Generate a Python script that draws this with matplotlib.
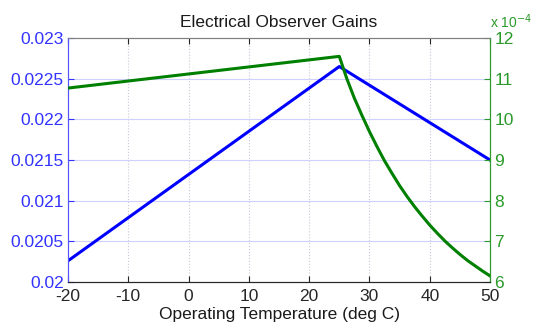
import matplotlib
matplotlib.use('Agg')
import matplotlib.pyplot as plt
from matplotlib.ticker import FuncFormatter

plt.rcParams['font.family'] = ['Liberation Sans', 'DejaVu Sans']
plt.rcParams['axes.unicode_minus'] = False

# data
temp_blue = [-20, 25, 50]
gain_blue = [0.02026, 0.02265, 0.0215]

temp_green = [-20, 25, 26.25, 27.5, 28.75, 30, 31.25, 32.5, 33.75, 35, 36.25,
              37.5, 38.75, 40, 41.25, 42.5, 43.75, 45, 46.25, 47.5, 48.75, 50]
gain_green = [10.77e-4, 11.55e-4, 11.00e-4, 10.52e-4, 10.10e-4, 9.70e-4,
              9.33e-4, 8.98e-4, 8.67e-4, 8.37e-4, 8.10e-4, 7.85e-4, 7.62e-4,
              7.40e-4, 7.20e-4, 7.01e-4, 6.84e-4, 6.68e-4, 6.53e-4, 6.40e-4,
              6.27e-4, 6.15e-4]

xticks = [-20, -10, 0, 10, 20, 30, 40, 50]
left_ticks = [0.02, 0.0205, 0.021, 0.0215, 0.022, 0.0225, 0.023]
left_labels = ['0.02', '0.0205', '0.021', '0.0215', '0.022', '0.0225', '0.023']
right_ticks = [6e-4, 7e-4, 8e-4, 9e-4, 10e-4, 11e-4, 12e-4]

fig = plt.figure(figsize=(5.35, 3.31), dpi=100)
ax1 = fig.add_axes([0.127, 0.148, 0.789, 0.737])
ax2 = ax1.twinx()

ax1.plot(temp_blue, gain_blue, color='#0000ff', lw=2.2, zorder=3)
ax2.plot(temp_green, gain_green, color='#008000', lw=2.2, zorder=3)

ax1.set_xlim(-20, 50)
ax1.set_ylim(0.02, 0.023)
ax2.set_ylim(6e-4, 12e-4)

ax1.set_xticks(xticks)
ax1.set_yticks(left_ticks)
ax1.set_yticklabels(left_labels)
ax2.set_yticks(right_ticks)
ax2.yaxis.set_major_formatter(FuncFormatter(lambda v, p: '%d' % round(v * 1e4)))

# grid lines
for x in xticks[1:-1]:
    ax1.axvline(x, color='#c8c8d8', lw=0.8, ls=':', zorder=1)
for y in left_ticks[1:-1]:
    ax1.axhline(y, color='#d0d0ff', lw=0.8, zorder=1)

ax1.tick_params(axis='x', direction='in', top=True, length=4, labelsize=12.5,
                colors='#262626', pad=5)
ax1.tick_params(axis='y', direction='in', length=4, labelsize=12.5,
                colors='#3333ff', pad=3)
ax2.tick_params(axis='y', direction='in', length=4, labelsize=12.5,
                colors='#2a9a2a', pad=3)

for ax in (ax1, ax2):
    ax.spines['top'].set_color('#808080')
    ax.spines['bottom'].set_color('#262626')
    ax.spines['left'].set_color('#5555ff')
    ax.spines['right'].set_color('#2a9a2a')

ax1.set_xlabel('Operating Temperature (deg C)', fontsize=12.5, color='#1a1a1a',
               labelpad=2)
ax1.set_title('Electrical Observer Gains', fontsize=12.5, color='#1a1a1a', pad=8)
ax2.text(1.0, 1.03, 'x 10$^{-4}$', transform=ax2.transAxes, color='#2a9a2a',
         fontsize=10, ha='left', va='bottom')

fig.savefig('out.png', dpi=100)
